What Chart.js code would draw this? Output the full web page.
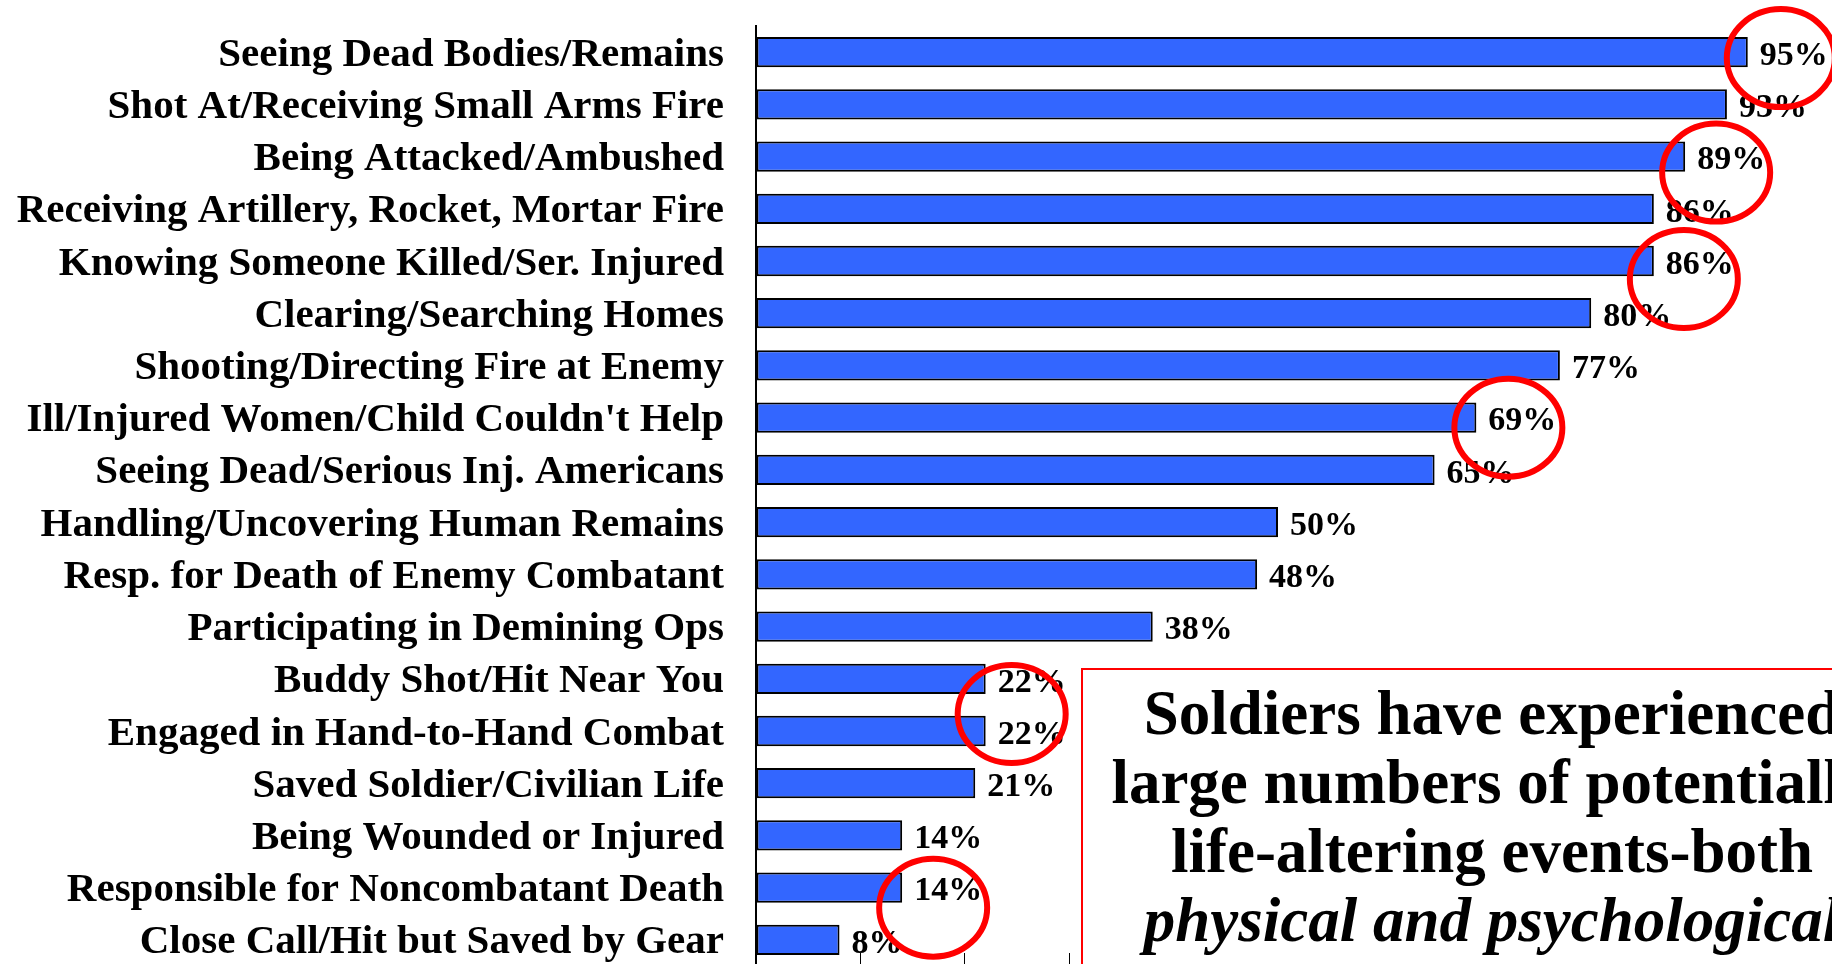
<!DOCTYPE html>
<html lang="en">

<head>
    <meta charset="UTF-8">
    <title>Combat experiences</title>
    <style>
        body { margin: 0; overflow: hidden; background: #fff; }
        #wrap { position: relative; width: 1832px; height: 1010px; }
        #note {
            position: absolute; left: 1081px; top: 668px; width: 818px; height: 400px;
            border: 2px solid #ff0000; background: #fff; box-sizing: content-box;
            font: bold 63px "Liberation Serif", "Times New Roman", serif; line-height: 69px;
            text-align: center; white-space: nowrap; padding-top: 9px; color: #000;
        }
    </style>
</head>

<body>
    <div id="wrap">
        <canvas id="myChart" width="1832" height="1010"></canvas>
        <div id="note">Soldiers have experienced<br>large numbers of potentially<br>life-altering events-both<br><i>physical and psychological</i></div>
    </div>

    <script src="https://cdn.jsdelivr.net/npm/chart.js"></script>
    <script>
        const v_labels = [
            'Seeing Dead Bodies/Remains',
            'Shot At/Receiving Small Arms Fire',
            'Being Attacked/Ambushed',
            'Receiving Artillery, Rocket, Mortar Fire',
            'Knowing Someone Killed/Ser. Injured',
            'Clearing/Searching Homes',
            'Shooting/Directing Fire at Enemy',
            "Ill/Injured Women/Child Couldn't Help",
            'Seeing Dead/Serious Inj. Americans',
            'Handling/Uncovering Human Remains',
            'Resp. for Death of Enemy Combatant',
            'Participating in Demining Ops',
            'Buddy Shot/Hit Near You',
            'Engaged in Hand-to-Hand Combat',
            'Saved Soldier/Civilian Life',
            'Being Wounded or Injured',
            'Responsible for Noncombatant Death',
            'Close Call/Hit but Saved by Gear'
        ];
        const v_data = [95, 93, 89, 86, 86, 80, 77, 69, 65, 50, 48, 38, 22, 22, 21, 14, 14, 8];
        // rows that carry a red circle in the original slide
        const v_circled = [0, 2, 4, 7, 13, 16];

        const serif = '"Liberation Serif", "Times New Roman", serif';

        // percent labels at the end of each bar
        const valueLabels = {
            id: 'valueLabels',
            afterDatasetsDraw(chart) {
                const ctx = chart.ctx;
                const meta = chart.getDatasetMeta(0);
                ctx.save();
                ctx.font = 'bold 34px ' + serif;
                ctx.fillStyle = '#000';
                ctx.textAlign = 'left';
                ctx.textBaseline = 'middle';
                meta.data.forEach((bar, i) => {
                    ctx.fillText(v_data[i] + '%', bar.x + 12, bar.y + 4);
                });
                ctx.restore();
            }
        };

        // hand-drawn style red ellipses around some labels
        const circleOffsets = { 0: [33, 6], 2: [31, 16], 4: [30, 18], 7: [32, 10], 13: [26, -17], 16: [31, 20] };
        const redCircles = {
            id: 'redCircles',
            afterDraw(chart) {
                const ctx = chart.ctx;
                const meta = chart.getDatasetMeta(0);
                ctx.save();
                ctx.strokeStyle = '#ff0000';
                ctx.lineWidth = 6;
                v_circled.forEach(i => {
                    const bar = meta.data[i];
                    const off = circleOffsets[i];
                    ctx.beginPath();
                    ctx.ellipse(bar.x + off[0], bar.y + off[1], 54, 49, 0, 0, Math.PI * 2);
                    ctx.stroke();
                });
                ctx.restore();
            }
        };

        new Chart(document.getElementById('myChart'), {
            type: 'bar',
            data: {
                labels: v_labels,
                datasets: [{
                    data: v_data,
                    backgroundColor: '#3366ff',
                    borderColor: '#000',
                    borderWidth: 2,
                    borderSkipped: false,
                    barPercentage: 0.58,
                    categoryPercentage: 1
                }]
            },
            options: {
                indexAxis: 'y',
                responsive: false,
                animation: false,
                devicePixelRatio: 1,
                layout: { padding: { top: 26, right: 32, left: 0, bottom: 0 } },
                plugins: {
                    legend: { display: false },
                    tooltip: { enabled: false }
                },
                scales: {
                    x: {
                        min: 0,
                        max: 100,
                        ticks: { display: false, stepSize: 10 },
                        grid: { drawOnChartArea: false, drawTicks: true, tickLength: -13, color: '#000', lineWidth: 1 },
                        border: { display: true, color: '#000', width: 2 },
                        afterFit(scale) { scale.height = 44; }
                    },
                    y: {
                        grid: { display: false, drawTicks: false },
                        border: { display: true, color: '#000', width: 2 },
                        ticks: {
                            color: '#000',
                            padding: 32,
                            labelOffset: 3,
                            font: { family: serif, size: 41, weight: 'bold' }
                        },
                        afterFit(scale) {
                            scale.width = 756;
                            scale.paddingTop = 0;
                            scale.paddingBottom = 0;
                        }
                    }
                }
            },
            plugins: [valueLabels, redCircles]
        });
    </script>
</body>

</html>
